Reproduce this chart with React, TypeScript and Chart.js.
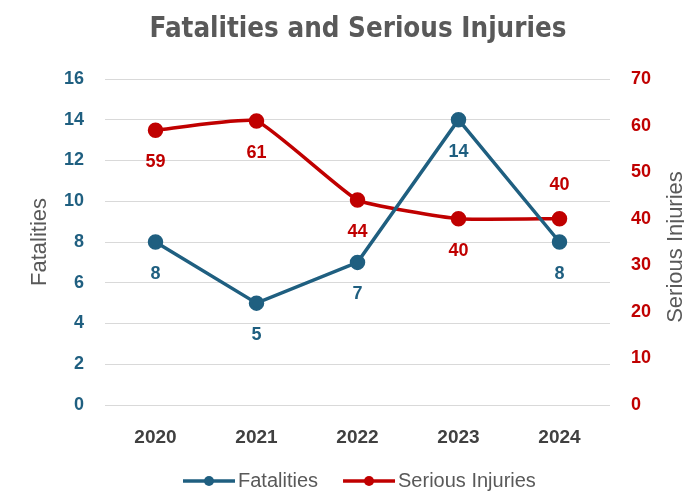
import React, { useEffect, useRef } from "react";
import { Chart, registerables } from "chart.js";
Chart.register(...registerables);

const categories = ["2020", "2021", "2022", "2023", "2024"];
const fatalities = [8, 5, 7, 14, 8];
const seriousInjuries = [59, 61, 44, 40, 40];
const fatalitiesLabelSide = ["below", "below", "below", "below", "below"];
const injuriesLabelSide = ["below", "below", "below", "below", "above"];
const leftAxis = { min: 0, max: 16, step: 2 };
const rightAxis = { min: 0, max: 70, step: 10 };
const chartTitle = "Fatalities and Serious Injuries";
const leftTitle = "Fatalities";
const rightTitle = "Serious Injuries";

const BLUE = "#1f5f80";
const RED = "#c00000";
const GRAY = "#595959";
const FONT = "'Liberation Sans', Arial, sans-serif";
const TITLE_FONT = "'DejaVu Sans Condensed', 'Liberation Sans', Arial, sans-serif";

const overlayPlugin = {
  id: "overlay",
  afterDatasetsDraw(chart: any) {
    const ctx = chart.ctx as CanvasRenderingContext2D;
    const ca = chart.chartArea;
    ctx.save();
    // chart title
    ctx.font = `bold 27.5px ${TITLE_FONT}`;
    ctx.fillStyle = GRAY;
    ctx.textAlign = "center";
    ctx.textBaseline = "middle";
    ctx.fillText(chartTitle, 358, 30);
    // data labels
    const sides = [fatalitiesLabelSide, injuriesLabelSide];
    chart.data.datasets.forEach((ds: any, di: number) => {
      const meta = chart.getDatasetMeta(di);
      ctx.font = `bold 18px ${FONT}`;
      ctx.fillStyle = ds.borderColor;
      ctx.textAlign = "center";
      ctx.textBaseline = "middle";
      meta.data.forEach((pt: any, i: number) => {
        const off = sides[di][i] === "above" ? -34 : 32;
        ctx.fillText(String(ds.data[i]), pt.x, pt.y + off);
      });
    });
    // right axis title (reads bottom to top)
    ctx.save();
    ctx.translate(676, 247);
    ctx.rotate(-Math.PI / 2);
    ctx.font = `22px ${FONT}`;
    ctx.fillStyle = GRAY;
    ctx.textAlign = "center";
    ctx.textBaseline = "middle";
    ctx.fillText(rightTitle, 0, 0);
    ctx.restore();
    // legend
    const y = 481;
    const lineW = 52;
    const gap = 3;
    const spacing = 25;
    ctx.font = `20px ${FONT}`;
    const items = chart.data.datasets.map((ds: any) => ({
      label: ds.label,
      color: ds.borderColor,
      w: ctx.measureText(ds.label).width,
    }));
    let x = 183;
    items.forEach((it: any) => {
      ctx.strokeStyle = it.color;
      ctx.lineWidth = 3.5;
      ctx.beginPath();
      ctx.moveTo(x, y);
      ctx.lineTo(x + lineW, y);
      ctx.stroke();
      ctx.fillStyle = it.color;
      ctx.beginPath();
      ctx.arc(x + lineW / 2, y, 5, 0, Math.PI * 2);
      ctx.fill();
      ctx.fillStyle = GRAY;
      ctx.textAlign = "left";
      ctx.textBaseline = "middle";
      ctx.fillText(it.label, x + lineW + gap, y);
      x += lineW + gap + it.w + spacing;
    });
    ctx.restore();
  },
};

export default function App() {
  const ref = useRef<HTMLCanvasElement>(null);
  useEffect(() => {
    if (!ref.current) return;
    const chart = new Chart(ref.current, {
      type: "line",
      data: {
        labels: categories,
        datasets: [
          {
            label: "Fatalities",
            data: fatalities,
            borderColor: BLUE,
            backgroundColor: BLUE,
            borderWidth: 3.5,
            pointRadius: 6,
            pointHoverRadius: 6,
            tension: 0,
            yAxisID: "y",
          },
          {
            label: "Serious Injuries",
            data: seriousInjuries,
            borderColor: RED,
            backgroundColor: RED,
            borderWidth: 3.5,
            pointRadius: 6,
            pointHoverRadius: 6,
            tension: 0.12,
            yAxisID: "y1",
          },
        ],
      },
      options: {
        responsive: false,
        animation: false,
        devicePixelRatio: 1,
        layout: { padding: { left: 0, right: 0, top: 79, bottom: 36 } },
        plugins: {
          legend: { display: false },
          tooltip: { enabled: false },
          title: { display: false },
        },
        scales: {
          x: {
            offset: true,
            grid: { display: false, drawTicks: false },
            border: { display: false },
            ticks: { color: "#404040", font: { family: FONT, size: 19, weight: "bold" }, padding: 21 },
            afterFit: (s: any) => { s.height = 50; },
          },
          y: {
            position: "left",
            min: leftAxis.min,
            max: leftAxis.max,
            ticks: { stepSize: leftAxis.step, color: BLUE, font: { family: FONT, size: 18, weight: "bold" }, padding: 21 },
            grid: { color: "#d9d9d9", lineWidth: 1, drawTicks: false },
            border: { display: false },
            title: {
              display: true,
              text: leftTitle,
              color: GRAY,
              font: { family: FONT, size: 22, lineHeight: 1 },
              padding: { top: 29, bottom: 0 },
            },
            afterFit: (s: any) => { s.width = 105; },
          },
          y1: {
            position: "right",
            min: rightAxis.min,
            max: rightAxis.max,
            ticks: { stepSize: rightAxis.step, color: RED, font: { family: FONT, size: 18, weight: "bold" }, padding: 21 },
            grid: { display: false, drawTicks: false },
            border: { display: false },
            afterFit: (s: any) => { s.width = 74; },
          },
        },
      },
      plugins: [overlayPlugin],
    } as any);
    return () => chart.destroy();
  }, []);
  return (
    <div style={{ position: "absolute", left: 0, top: 0, width: 684, height: 491, background: "#fff" }}>
      <canvas ref={ref} width={684} height={491} style={{ display: "block" }} />
    </div>
  );
}
